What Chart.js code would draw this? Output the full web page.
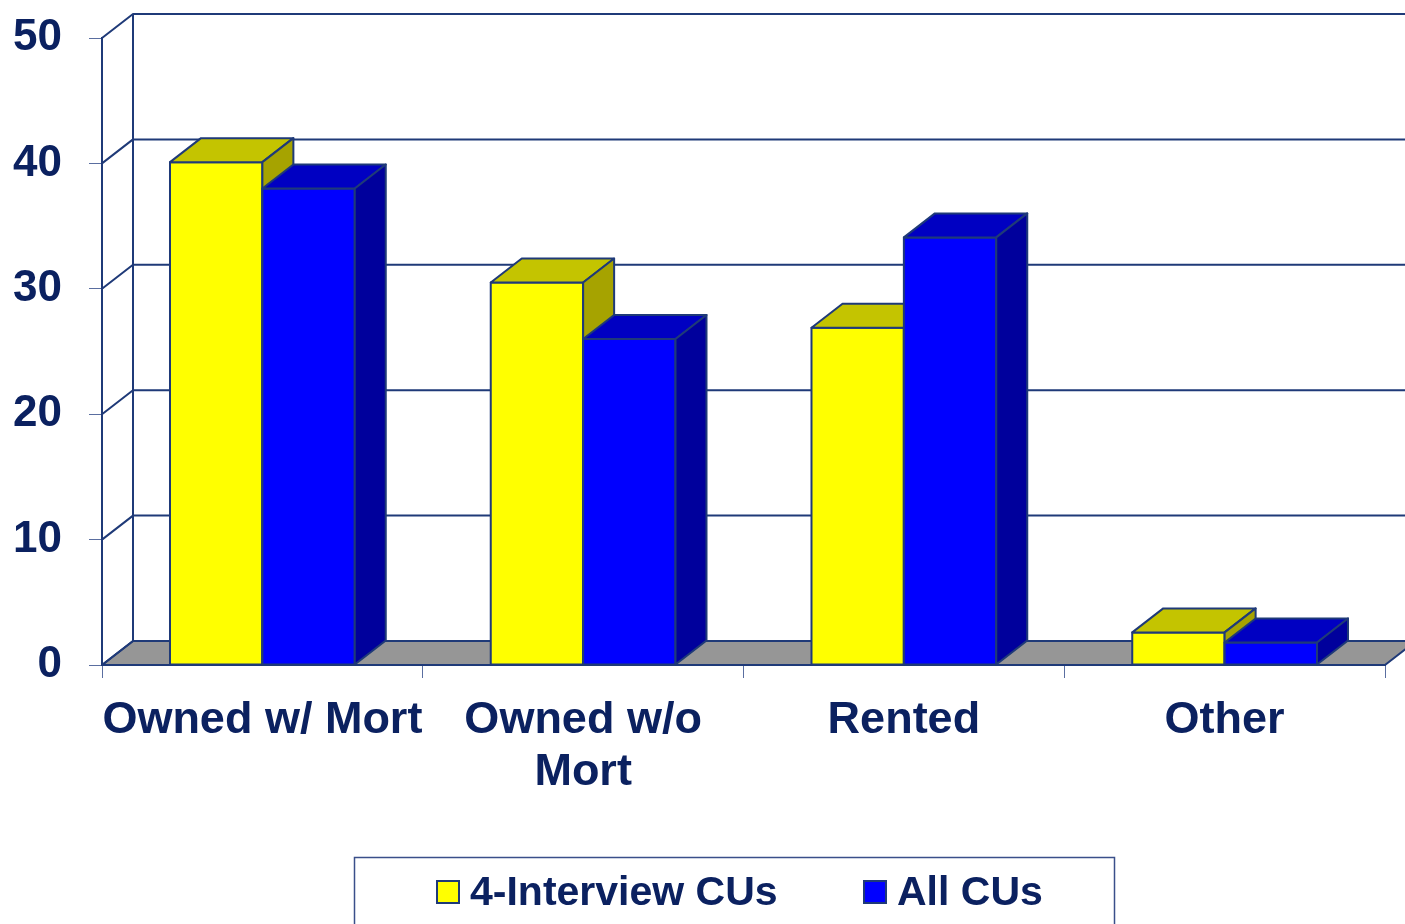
<!DOCTYPE html>
<html>
<head>
<meta charset="utf-8">
<script src="https://cdn.jsdelivr.net/npm/chart.js@4"></script>
<style>
  html, body { margin: 0; padding: 0; background: #ffffff; }
  #wrap { width: 1405px; height: 924px; }
</style>
</head>
<body>
<div id="wrap"><canvas id="housing"></canvas></div>
<script>
const categories = [['Owned w/ Mort'], ['Owned w/o', 'Mort'], ['Rented'], ['Other']];
const fourInterview = [40.1, 30.5, 26.9, 2.6];
const allCUs = [38.0, 26.0, 34.1, 1.8];
const seriesNames = ['4-Interview CUs', 'All CUs'];
const yMin = 0, yMax = 50, yStep = 10;

const navy = '#1f3a78';
const textNavy = '#0b2160';
const fontFamily = "'Liberation Sans', Arial, sans-serif";
const depthX = 31, depthY = 24;

// front/top/side colours for each series
const faces = [
    { front: '#ffff00', top: '#c4c400', side: '#a6a300' },
    { front: '#0000ff', top: '#0000c2', side: '#00009c' }
];

function poly(ctx, pts, fill) {
    ctx.beginPath();
    ctx.moveTo(pts[0][0], pts[0][1]);
    for (let i = 1; i < pts.length; i++) ctx.lineTo(pts[i][0], pts[i][1]);
    ctx.closePath();
    ctx.fillStyle = fill;
    ctx.fill();
    ctx.stroke();
}

const threeD = {
    id: 'threeD',
    beforeDatasetsDraw(chart) {
        const { ctx, chartArea, scales: { y } } = chart;
        const b = y.getPixelForValue(0);
        ctx.save();
        ctx.strokeStyle = navy;
        ctx.lineWidth = 2;
        ctx.lineJoin = 'round';
        // floor
        poly(ctx, [
            [chartArea.left, b],
            [chartArea.right, b],
            [chartArea.right + depthX, b - depthY],
            [chartArea.left + depthX, b - depthY]
        ], '#969696');
        // back wall grid + left wall diagonals
        y.ticks.forEach(t => {
            const py = y.getPixelForValue(t.value);
            ctx.beginPath();
            ctx.moveTo(chartArea.left, py);
            ctx.lineTo(chartArea.left + depthX, py - depthY);
            ctx.lineTo(chartArea.right + depthX, py - depthY);
            ctx.stroke();
        });
        ctx.beginPath();
        ctx.moveTo(chartArea.left + depthX, b - depthY);
        ctx.lineTo(chartArea.left + depthX, y.getPixelForValue(yMax) - depthY);
        ctx.stroke();
        ctx.restore();
    },
    afterDatasetsDraw(chart) {
        const { ctx } = chart;
        const metas = chart.data.datasets.map((d, i) => chart.getDatasetMeta(i));
        ctx.save();
        ctx.strokeStyle = navy;
        ctx.lineWidth = 2;
        ctx.lineJoin = 'round';
        // per category: yellow block first, then blue block over its side
        categories.forEach((c, j) => {
            metas.forEach((meta, i) => {
                const f = faces[i];
                const p = meta.data[j].getProps(['x', 'y', 'base', 'width'], true);
                const l = p.x - p.width / 2, r = p.x + p.width / 2;
                poly(ctx, [[l, p.y], [r, p.y], [r, p.base], [l, p.base]], f.front);
                poly(ctx, [[l, p.y], [l + depthX, p.y - depthY], [r + depthX, p.y - depthY], [r, p.y]], f.top);
                poly(ctx, [[r, p.y], [r + depthX, p.y - depthY], [r + depthX, p.base - depthY], [r, p.base]], f.side);
            });
        });
        ctx.restore();
    },
    afterDraw(chart) {
        const { ctx } = chart;
        ctx.save();
        // legend frame
        ctx.strokeStyle = '#3a4f8a';
        ctx.lineWidth = 1.5;
        ctx.strokeRect(354.5, 857.5, 760, 80);
        ctx.font = 'bold 41px ' + fontFamily;
        ctx.textBaseline = 'alphabetic';
        ctx.textAlign = 'left';
        const boxX = [437, 864];
        chart.data.datasets.forEach((ds, i) => {
            ctx.fillStyle = ds.backgroundColor;
            ctx.strokeStyle = navy;
            ctx.lineWidth = 2;
            ctx.fillRect(boxX[i], 881, 22, 22);
            ctx.strokeRect(boxX[i], 881, 22, 22);
            ctx.fillStyle = textNavy;
            ctx.fillText(ds.label, boxX[i] + 33, 905);
        });
        ctx.restore();
    }
};

const ctx = document.getElementById('housing').getContext('2d');

new Chart(ctx, {
    type: 'bar',
    data: {
        labels: categories,
        datasets: [{
            label: seriesNames[0],
            data: fourInterview,
            backgroundColor: faces[0].front,
            borderColor: navy,
            borderWidth: 2,
            borderSkipped: false
        }, {
            label: seriesNames[1],
            data: allCUs,
            backgroundColor: faces[1].front,
            borderColor: navy,
            borderWidth: 2,
            borderSkipped: false
        }]
    },
    options: {
        responsive: true,
        maintainAspectRatio: false,
        animation: false,
        categoryPercentage: 0.576,
        barPercentage: 1,
        layout: { padding: { top: 38, right: 20, left: 0, bottom: 0 } },
        plugins: {
            legend: { display: false },
            tooltip: { enabled: false }
        },
        scales: {
            x: {
                grid: { drawOnChartArea: false, tickLength: 13, color: '#5a6ea0', lineWidth: 1 },
                border: { display: true, color: navy, width: 2 },
                ticks: {
                    color: textNavy,
                    padding: 16,
                    maxRotation: 0,
                    autoSkip: false,
                    font: { family: fontFamily, size: 45, weight: 'bold', lineHeight: 1.16 }
                },
                afterFit(scale) {
                    scale.height = 259;
                    scale.paddingLeft = 0;
                    scale.paddingRight = 0;
                }
            },
            y: {
                min: yMin,
                max: yMax,
                grid: { drawOnChartArea: false, tickLength: 13, color: '#5a6ea0', lineWidth: 1 },
                border: { display: true, color: navy, width: 2 },
                ticks: {
                    stepSize: yStep,
                    color: textNavy,
                    padding: 27,
                    font: { family: fontFamily, size: 44, weight: 'bold' }
                },
                afterFit(scale) {
                    scale.width = 102;
                    scale.paddingTop = 0;
                    scale.paddingBottom = 0;
                }
            }
        }
    },
    plugins: [threeD]
});
</script>
</body>
</html>
